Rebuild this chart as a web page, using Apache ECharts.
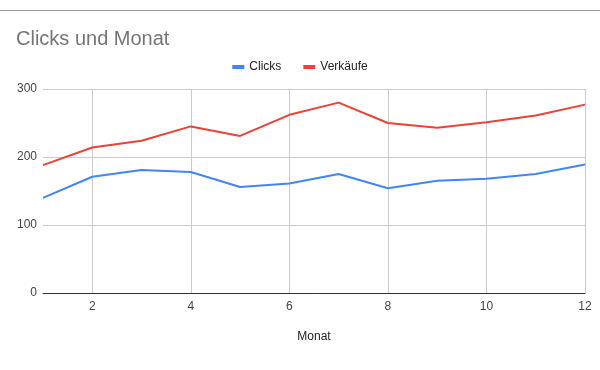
<!DOCTYPE html>
<html><head><meta charset="utf-8">
<script src="https://cdn.jsdelivr.net/npm/echarts@6/dist/echarts.min.js"></script>
<style>html,body{margin:0;padding:0;background:#fff}#c{width:600px;height:370px}</style>
</head><body><div id="c"></div>
<script>
const months = ['1','2','3','4','5','6','7','8','9','10','11','12'];
const clicks = [140,171,181,178,156,161,175,154,165,168,175,189];
const verkaeufe = [188,214,224,245,231,262,280,250,243,251,261,277];
const yTicks = [0,100,200,300];
const FONT = '"Liberation Sans", Arial, sans-serif';
const chart = echarts.init(document.getElementById('c'));
chart.setOption({
  animation: false,
  textStyle: {fontFamily: FONT},
  title: {text: 'Clicks und Monat', left: 11, top: 24, textStyle: {fontFamily: FONT, fontSize: 20, fontWeight: 'normal', color: '#757575'}},
  legend: {top: 56, left: 'center', itemWidth: 12, itemHeight: 4, itemGap: 22, icon: 'rect',
    textStyle: {fontFamily: FONT, fontSize: 12, color: '#222'}},
  graphic: [{type: 'line', shape: {x1: 0, y1: 10.5, x2: 600, y2: 10.5}, style: {stroke: '#9e9e9e', lineWidth: 1}}],
  grid: {left: 43, right: 15, top: 89, bottom: 77, containLabel: false},
  xAxis: {type: 'category', data: months, boundaryGap: false,
    name: 'Monat', nameLocation: 'middle', nameGap: 38, nameTextStyle: {fontFamily: FONT, fontSize: 12, color: '#222'},
    axisLine: {lineStyle: {color: '#333', width: 1}}, axisTick: {show: false},
    axisLabel: {interval: (i) => i % 2 === 1, color: '#444', fontSize: 12, margin: 8, fontFamily: FONT},
    splitLine: {show: true, interval: (i) => i % 2 === 1, lineStyle: {color: '#ccc'}}},
  yAxis: {type: 'value', min: yTicks[0], max: yTicks[yTicks.length-1], interval: 100,
    axisLine: {show: false}, axisTick: {show: false},
    axisLabel: {color: '#444', fontSize: 12, margin: 6, fontFamily: FONT},
    splitLine: {lineStyle: {color: '#ccc'}}},
  series: [
    {name: 'Clicks', type: 'line', data: clicks, color: '#4285F4', showSymbol: false, lineStyle: {width: 2}},
    {name: 'Verkäufe', type: 'line', data: verkaeufe, color: '#EA4335', showSymbol: false, lineStyle: {width: 2}}
  ]
});
</script></body></html>
